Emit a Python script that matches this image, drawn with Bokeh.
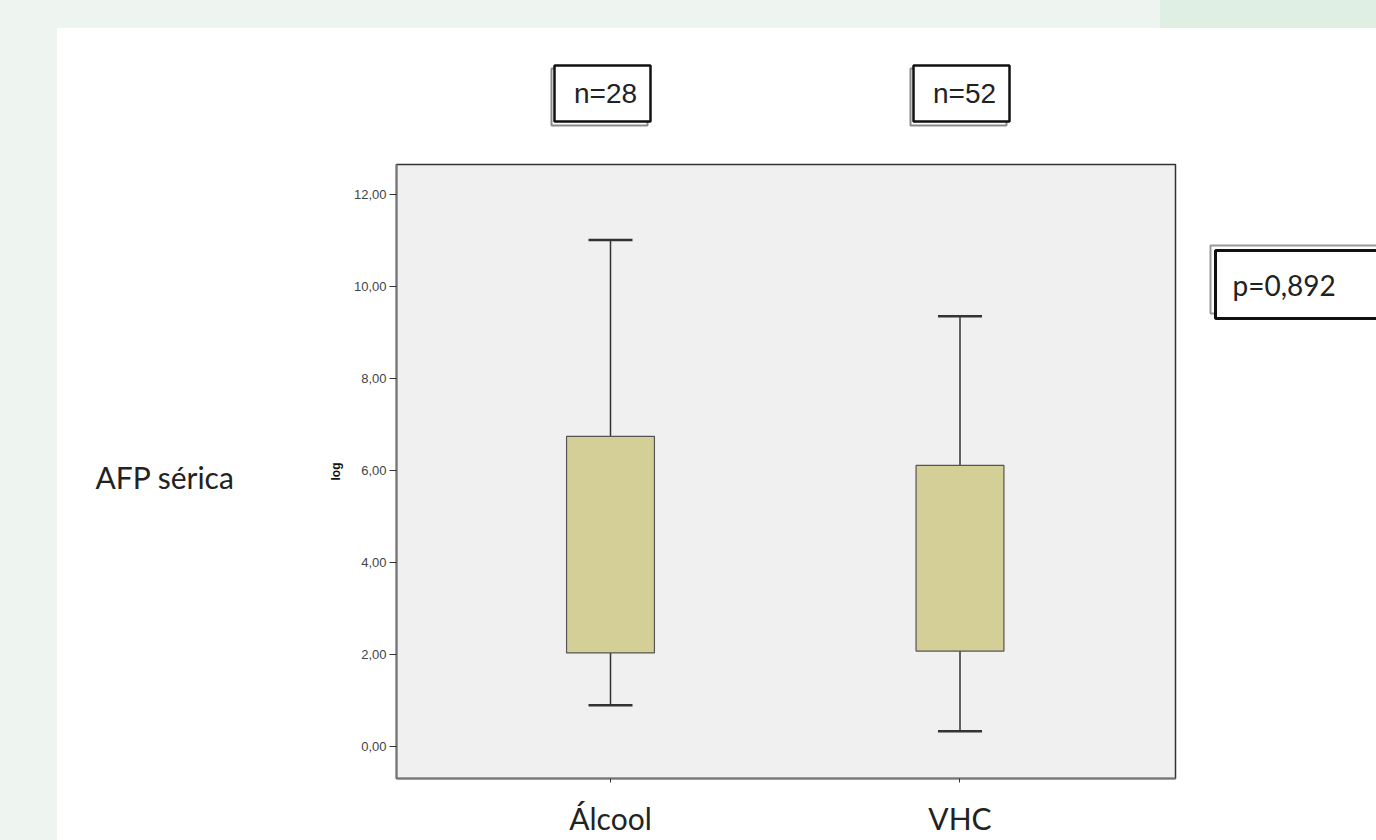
from bokeh.plotting import figure
from bokeh.models import Range1d, FixedTicker, Div, ColumnDataSource
from bokeh.layouts import column, row
from bokeh.core.properties import value
from bokeh.embed import file_html
from bokeh.resources import INLINE

# ---- data ----
groups = ["Álcool", "VHC"]
group_pos = [1, 2]
lower_whisker = [0.89, 0.33]
q1 = [2.03, 2.07]
median = [4.11, 3.61]
q3 = [6.74, 6.11]
upper_whisker = [11.01, 9.35]
n_labels = ["n=28", "n=52"]
p_value_text = ["p=0,892"]
row_label = ["AFP sérica"]
y_ticks = [0, 2, 4, 6, 8, 10, 12]
y_tick_labels = ["0,00", "2,00", "4,00", "6,00", "8,00", "10,00", "12,00"]

GREEN = "#eef5f0"
GREEN2 = "#dfefe4"


def deco_fig(w, h, x0, x1, y0, y1):
    f = figure(width=w, height=h, output_backend="svg", toolbar_location=None,
               x_axis_type=None, y_axis_type=None,
               x_range=Range1d(x0, x1), y_range=Range1d(y1, y0),
               min_border=0, min_border_left=0, min_border_right=0,
               min_border_top=0, min_border_bottom=0)
    f.outline_line_color = None
    f.background_fill_color = "white"
    f.border_fill_color = "white"
    f.margin = 0
    return f


# ---- main box plot ----
src = ColumnDataSource(dict(x=group_pos, lo=lower_whisker, q1=q1, med=median, q3=q3, hi=upper_whisker))

p = figure(width=874, height=678, output_backend="svg", toolbar_location=None,
           x_range=Range1d(0.3877, 2.6166), y_range=Range1d(-0.70, 12.65),
           min_border_left=75, min_border_right=20, min_border_top=2, min_border_bottom=62)
p.margin = 0
p.background_fill_color = "#f0f0f0"
p.border_fill_color = "white"
p.outline_line_color = "#333333"
p.outline_line_width = 1.5
p.xgrid.visible = False
p.ygrid.visible = False

p.segment(x0="x", y0="q3", x1="x", y1="hi", source=src, line_color="#333333", line_width=1.5)
p.segment(x0="x", y0="lo", x1="x", y1="q1", source=src, line_color="#333333", line_width=1.5)
p.dash(x="x", y="hi", source=src, size=44, line_color="#333333", line_width=2.5)
p.dash(x="x", y="lo", source=src, size=44, line_color="#333333", line_width=2.5)
p.vbar(x="x", width=0.2514, bottom="q1", top="q3", source=src,
       fill_color="#d3cf97", line_color="#555555", line_width=1.2)
p.rect(x="x", y="med", width=0.2514, height=0.0, source=src, fill_alpha=0,
       line_color="#111111", line_width=2.5)

xa = p.xaxis[0]
xa.ticker = FixedTicker(ticks=group_pos)
xa.major_label_overrides = {pos: g for pos, g in zip(group_pos, groups)}
xa.major_label_text_font = "Lato"
xa.major_label_text_font_size = "30px"
xa.major_label_text_color = "#222222"
xa.major_label_standoff = 17
xa.major_tick_out = 4
xa.major_tick_in = 0
xa.minor_tick_line_color = None
xa.axis_line_color = "#777777"
xa.axis_line_width = 2
xa.major_tick_line_color = "#333333"

ya = p.yaxis[0]
ya.ticker = FixedTicker(ticks=y_ticks)
ya.major_label_overrides = {t: l for t, l in zip(y_ticks, y_tick_labels)}
ya.major_label_text_font = "Liberation Sans"
ya.major_label_text_font_size = "13px"
ya.major_label_text_color = "#444444"
ya.major_label_standoff = 3
ya.major_tick_out = 7
ya.major_tick_in = 0
ya.minor_tick_line_color = None
ya.axis_line_color = "#777777"
ya.axis_line_width = 2
ya.major_tick_line_color = "#333333"
ya.axis_label = "log"
ya.axis_label_text_font = "Liberation Sans"
ya.axis_label_text_font_size = "12px"
ya.axis_label_text_font_style = "bold"
ya.axis_label_text_color = "#111111"
ya.axis_label_standoff = 8

# ---- top strip: n= boxes (coordinates = page pixels) ----
top = deco_fig(1319, 134, 57, 1376, 28, 162)
n_cx = [602, 961]
n_half_w = 48
top.quad(left=[c - n_half_w - 3 for c in n_cx], right=[c + n_half_w - 3 for c in n_cx],
         top=[68, 68], bottom=[125, 125], fill_color="white", line_color="#8a8a8a", line_width=2)
top.quad(left=[c - n_half_w for c in n_cx], right=[c + n_half_w for c in n_cx],
         top=[65, 65], bottom=[121, 121], fill_color="white", line_color="#111111", line_width=2.5)
top.text(x=[c + 3 for c in n_cx], y=[93, 93], text=n_labels, text_font=value("Liberation Sans"),
         text_font_size=value("28px"), text_color="#222222",
         text_align="center", text_baseline="middle")

# ---- side strips share the main plot's frame rows (page y 164..778) ----
left = deco_fig(264, 678, 57, 321, 164, 778)
left.text(x=[95], y=[476], text=row_label, text_font=value("Lato"), text_font_size=value("30px"),
          text_color="#222222", text_align="left", text_baseline="middle")

right = deco_fig(181, 678, 1195, 1376, 164, 778)
right.quad(left=[1210], right=[1390], top=[245], bottom=[313], fill_color="white",
           line_color="#999999", line_width=2)
right.quad(left=[1215], right=[1390], top=[250], bottom=[318], fill_color="white",
           line_color="#111111", line_width=3)
right.text(x=[1232], y=[284], text=p_value_text, text_font=value("Lato"),
           text_font_size=value("28px"), text_color="#222222",
           text_align="left", text_baseline="middle")

# ---- page frame (green bands) ----
top_left = Div(text="", width=1160, height=28, margin=0, styles={"background-color": GREEN})
top_right = Div(text="", width=216, height=28, margin=0, styles={"background-color": GREEN2})
left_band = Div(text="", width=57, height=812, margin=0, styles={"background-color": GREEN})

layout = column(
    row(top_left, top_right, margin=0, spacing=0),
    row(left_band,
        column(top, row(left, p, right, margin=0, spacing=0), margin=0, spacing=0),
        margin=0, spacing=0),
    margin=0, spacing=0)

open("out.html", "w").write(file_html(layout, INLINE))
